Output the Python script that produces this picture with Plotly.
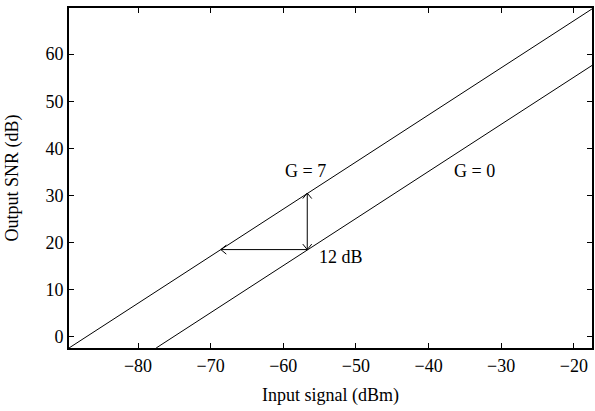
import plotly.graph_objects as go

# Data
x_g7 = [-89.5, -80, -70, -60, -50, -40, -30, -20, -17.5]
snr_g7 = [-2.4, 7.1, 17.1, 27.1, 37.1, 47.1, 57.1, 67.1, 69.6]
x_g0 = [-77.5, -70, -60, -50, -40, -30, -20, -17.5]
snr_g0 = [-2.4, 5.1, 15.1, 25.1, 35.1, 45.1, 55.1, 57.6]

x_ticks = [-80, -70, -60, -50, -40, -30, -20]
y_ticks = [0, 10, 20, 30, 40, 50, 60]

# annotation geometry (data units)
arrow_x = -56.7
arrow_y_low = 18.5
arrow_y_high = 30.5
arrow_x_left = -68.6

labels = [("G = 7", -57.0, 35.1), ("12 dB", -52.0, 17.0), ("G = 0", -33.7, 35.2)]

x_range = [-89.5, -17.5]
y_range = [-2.4, 69.8]

W, H = 595, 411
ml, mr, mt, mb = 69, 1, 8, 63
pw, ph = W - ml - mr, H - mt - mb
sx = pw / (x_range[1] - x_range[0])  # px per x unit
sy = ph / (y_range[1] - y_range[0])  # px per y unit

FONT = "Liberation Serif"
FS = 18
fig = go.Figure()
for xs, ys in [(x_g7, snr_g7), (x_g0, snr_g0)]:
    fig.add_trace(go.Scatter(x=xs, y=ys, mode="lines",
                             line=dict(color="black", width=1), showlegend=False,
                             hoverinfo="skip"))

shapes = []
line = dict(color="black", width=1)
# vertical double arrow
shapes.append(dict(type="line", x0=arrow_x, x1=arrow_x, y0=arrow_y_low, y1=arrow_y_high, line=line))
# horizontal arrow
shapes.append(dict(type="line", x0=arrow_x, x1=arrow_x_left, y0=arrow_y_low, y1=arrow_y_low, line=line))
hl, hw = 5.5, 4.5  # head length/half-width in px
def head(tx, ty, dx, dy):
    bx = tx - dx * hl / sx
    by = ty - dy * hl / sy
    px, py = -dy, dx
    p1 = (bx + px * hw / sx, by + py * hw / sy)
    p2 = (bx - px * hw / sx, by - py * hw / sy)
    return dict(type="path",
                path=f"M {p1[0]},{p1[1]} L {tx},{ty} L {p2[0]},{p2[1]}",
                line=line)
shapes.append(head(arrow_x, arrow_y_high, 0, 1))
shapes.append(head(arrow_x, arrow_y_low, 0, -1))
shapes.append(head(arrow_x_left, arrow_y_low, -1, 0))

annotations = [dict(x=x, y=y, text=t, showarrow=False,
                    font=dict(family=FONT, size=FS, color="black"))
               for t, x, y in labels]

axis_common = dict(showline=True, linecolor="black", linewidth=1.8, mirror="ticks",
                   ticks="inside", ticklen=5, tickwidth=1, tickcolor="black",
                   showgrid=False, zeroline=False,
                   tickfont=dict(family=FONT, size=FS, color="black"))
fig.update_layout(
    width=W, height=H,
    margin=dict(l=ml, r=mr, t=mt, b=mb),
    paper_bgcolor="white", plot_bgcolor="white",
    shapes=shapes, annotations=annotations,
    xaxis=dict(range=x_range, tickvals=x_ticks,
               ticktext=[f"\u2212{abs(v)}" for v in x_ticks],
               title=dict(text="Input signal (dBm)", standoff=14,
                          font=dict(family=FONT, size=FS, color="black")),
               **axis_common),
    yaxis=dict(range=y_range, tickvals=y_ticks,
               title=dict(text="Output SNR (dB)", standoff=22,
                          font=dict(family=FONT, size=FS, color="black")),
               **axis_common),
)
fig.write_html("out.html")
